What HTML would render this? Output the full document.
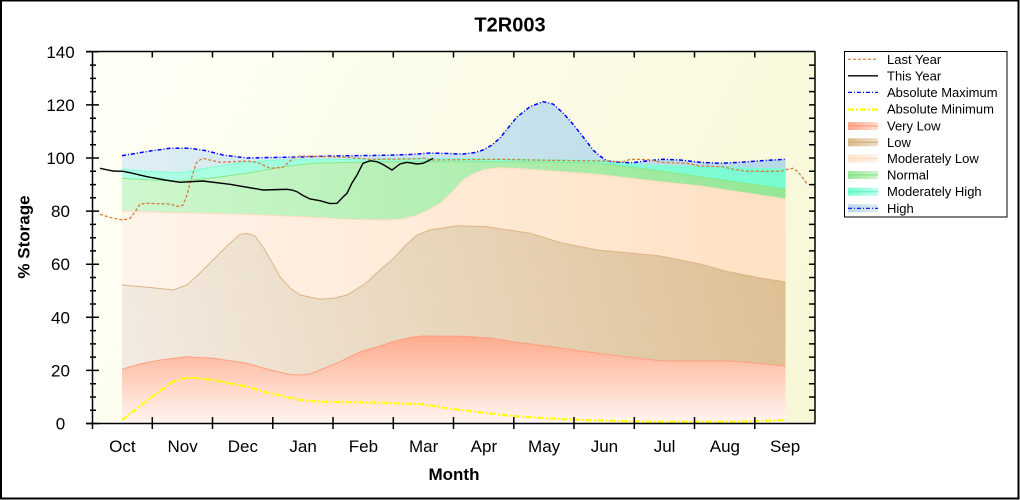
<!DOCTYPE html>
<html><head><meta charset="utf-8"><style>
html,body{margin:0;padding:0;background:#fff;}
svg{display:block;font-family:"Liberation Sans",Arial,sans-serif;}
</style></head><body>
<svg width="1020" height="500" viewBox="0 0 1020 500" xmlns="http://www.w3.org/2000/svg">
<defs>
<linearGradient id="bg" gradientUnits="userSpaceOnUse" x1="92" y1="51" x2="815" y2="423"><stop offset="0" stop-color="#fffff7"/><stop offset="1" stop-color="#f7f7d6"/></linearGradient>
<linearGradient id="gh" gradientUnits="userSpaceOnUse" x1="122" y1="0" x2="786" y2="0"><stop offset="0" stop-color="#deeef4"/><stop offset="1" stop-color="#b6d9e6"/></linearGradient>
<linearGradient id="gmh" gradientUnits="userSpaceOnUse" x1="122" y1="0" x2="786" y2="0"><stop offset="0" stop-color="#b0ffe4"/><stop offset="1" stop-color="#78fcd2"/></linearGradient>
<linearGradient id="gn" gradientUnits="userSpaceOnUse" x1="122" y1="0" x2="786" y2="0"><stop offset="0" stop-color="#cff7cf"/><stop offset="1" stop-color="#94e794"/></linearGradient>
<linearGradient id="gml" gradientUnits="userSpaceOnUse" x1="122" y1="0" x2="786" y2="0"><stop offset="0" stop-color="#fff3ea"/><stop offset="1" stop-color="#ffe1c3"/></linearGradient>
<linearGradient id="gl" gradientUnits="userSpaceOnUse" x1="122" y1="380" x2="786" y2="230"><stop offset="0" stop-color="#f3ebe2"/><stop offset="1" stop-color="#ddbf92"/></linearGradient>
<linearGradient id="gvl" gradientUnits="userSpaceOnUse" x1="0" y1="336" x2="0" y2="423"><stop offset="0" stop-color="#ffab8c"/><stop offset="1" stop-color="#fff5f1"/></linearGradient>
<linearGradient id="sw_vl"><stop offset="0" stop-color="#ffa88a"/><stop offset="1" stop-color="#ffe0d4"/></linearGradient>
<linearGradient id="sw_l"><stop offset="0" stop-color="#dcbb8c"/><stop offset="1" stop-color="#efe0cc"/></linearGradient>
<linearGradient id="sw_ml"><stop offset="0" stop-color="#ffe4cc"/><stop offset="1" stop-color="#fff3ea"/></linearGradient>
<linearGradient id="sw_n"><stop offset="0" stop-color="#98e898"/><stop offset="1" stop-color="#d0f5d0"/></linearGradient>
<linearGradient id="sw_mh"><stop offset="0" stop-color="#78ffd0"/><stop offset="1" stop-color="#c0fff0"/></linearGradient>
<linearGradient id="sw_h"><stop offset="0" stop-color="#b8d8e8"/><stop offset="1" stop-color="#e0eef4"/></linearGradient>
</defs>

<!-- outer border -->
<rect x="0" y="0" width="1020" height="500" fill="#fff"/>
<rect x="1" y="0.5" width="1017.5" height="498" fill="none" stroke="#000" stroke-width="2"/>

<!-- plot background -->
<rect x="92.5" y="51.5" width="722.5" height="372" fill="url(#bg)"/>

<!-- High band -->
<path fill="url(#gh)" d="M122,423.5 L122,155.7 L135,153.5 L150,151 L170,148.3 L190,148.3 L205,150.5 L223,155 L247,158 L270,157.5 L300,157 L330,156 L383,155.3 L410,154.5 L430,153 L463,154 L475,152.5 L483,150 L492,145 L500,138 L508,128 L517,117 L530,106.7 L543,101.7 L553,104 L563,113 L572,123 L580,133 L587,142 L593,150 L600,156 L607,161 L620,162.3 L633,162.7 L650,160.5 L663,159.3 L680,160 L700,162.3 L720,163.3 L740,162.3 L767,160.3 L785.5,159.3 L785.5,423.5 Z"/>
<!-- Moderately High -->
<path fill="url(#gmh)" d="M122,423.5 L122,169.3 L150,171.5 L180,172.7 L213,167 L247,161.7 L280,160 L330,159.5 L410,158.5 L500,159 L600,160.5 L640,164.7 L700,166.5 L785.5,169 L785.5,423.5 Z"/>
<polyline fill="none" stroke="#7fffd4" stroke-width="1" points="122,169.3 150,171.5 180,172.7 213,167 247,161.7 280,160 330,159.5 410,158.5 500,159 600,160.5 640,164.7 700,166.5 785.5,169"/>
<!-- Normal -->
<path fill="url(#gn)" d="M122,423.5 L122,178.3 L150,180 L180,181 L213,178 L247,173.3 L280,167.3 L313,163.3 L380,161.7 L450,161.7 L550,162 L597,163.3 L620,166 L650,169.5 L700,176.7 L785.5,189 L785.5,423.5 Z"/>
<polyline fill="none" stroke="#88e888" stroke-width="1" points="122,178.3 150,180 180,181 213,178 247,173.3 280,167.3 313,163.3 380,161.7 450,161.7 550,162 597,163.3 620,166 650,169.5 700,176.7 785.5,189"/>
<!-- Moderately Low -->
<path fill="url(#gml)" d="M122,423.5 L122,211 L180,212.7 L247,214.3 L313,217.3 L347,219.3 L387,220 L405,218.5 L417,215 L430,209 L440,203.3 L452,192 L463,180 L473,174 L483,170 L497,167.7 L513,168.3 L563,171.7 L597,174.3 L640,179.5 L660,181.7 L700,186 L785.5,199 L785.5,423.5 Z"/>
<polyline fill="none" stroke="#ffdcc0" stroke-width="1" points="122,211 180,212.7 247,214.3 313,217.3 347,219.3 387,220 405,218.5 417,215 430,209 440,203.3 452,192 463,180 473,174 483,170 497,167.7 513,168.3 563,171.7 597,174.3 640,179.5 660,181.7 700,186 785.5,199"/>
<!-- Low -->
<path fill="url(#gl)" d="M122,423.5 L122,285 L150,287.5 L173,290 L187,285 L200,273 L213,260 L227,246 L240,234.3 L247,233.5 L255,236 L265,250 L280,276.7 L290,288 L300,295 L320,299.3 L335,298 L347,295 L365,284 L380,270 L393,259 L405,246 L417,235 L430,230 L457,225.7 L487,226.7 L530,233.3 L563,243.3 L597,250 L630,253 L660,256 L700,264 L725,271 L760,278 L785.5,282 L785.5,423.5 Z"/>
<polyline fill="none" stroke="#ddb485" stroke-width="1" points="122,285 150,287.5 173,290 187,285 200,273 213,260 227,246 240,234.3 247,233.5 255,236 265,250 280,276.7 290,288 300,295 320,299.3 335,298 347,295 365,284 380,270 393,259 405,246 417,235 430,230 457,225.7 487,226.7 530,233.3 563,243.3 597,250 630,253 660,256 700,264 725,271 760,278 785.5,282"/>
<!-- Very Low -->
<path fill="url(#gvl)" d="M122,423.5 L122,369.3 L140,364 L160,360 L187,356.7 L213,358.3 L247,363.3 L270,370 L290,374.5 L300,375 L310,374 L320,370 L340,361.7 L360,352 L380,346 L395,341 L410,337.5 L423,336 L463,336.3 L490,338 L513,341.7 L550,346.5 L580,351 L615,355.5 L647,359.3 L663,361 L727,361 L750,362.5 L785.5,366 L785.5,423.5 Z"/>
<polyline fill="none" stroke="#ff9f80" stroke-width="1" points="122,369.3 140,364 160,360 187,356.7 213,358.3 247,363.3 270,370 290,374.5 300,375 310,374 320,370 340,361.7 360,352 380,346 395,341 410,337.5 423,336 463,336.3 490,338 513,341.7 550,346.5 580,351 615,355.5 647,359.3 663,361 727,361 750,362.5 785.5,366"/>

<!-- Absolute Minimum -->
<polyline fill="none" stroke="#ffff00" stroke-width="2.2" stroke-dasharray="6,2,2,2" points="122,420 135,410 150,398.3 163,389 173,381.7 183,378.5 193,377.7 213,380 247,386.7 270,393.3 300,400 320,401.7 340,402 380,402.7 423,404.3 447,408.3 480,412.3 513,416 547,418.3 580,420 647,421.7 740,421.7 760,421 786,420"/>
<!-- Absolute Maximum -->
<polyline fill="none" stroke="#0000ff" stroke-width="1.5" stroke-dasharray="4,2,1,2" points="122,155.7 135,153.5 150,151 170,148.3 190,148.3 205,150.5 223,155 247,158 270,157.5 300,157 330,156 383,155.3 410,154.5 430,153 463,154 475,152.5 483,150 492,145 500,138 508,128 517,117 530,106.7 543,101.7 553,104 563,113 572,123 580,133 587,142 593,150 600,156 607,161 620,162.3 633,162.7 650,160.5 663,159.3 680,160 700,162.3 720,163.3 740,162.3 767,160.3 786,159.3"/>
<!-- Last Year -->
<polyline fill="none" stroke="#d87c3c" stroke-width="1.3" stroke-dasharray="3,2" points="100,214.3 113,218.3 123,220 130,218.3 135,212 140,204 147,203.3 170,204 178,206.5 183,205 187,195 190,183.3 194,170 197,161.7 203,158.3 212,160.5 220,162.3 247,161 257,162.3 263,165 270,168.3 283,167.3 288,163 293,158.3 300,156 347,157.3 370,159.3 410,159 425,158.3 430,160 500,159.3 530,160 600,161 623,161.7 630,159.5 637,159.3 650,159.8 660,162.3 687,163.3 700,166 723,166.7 733,169.3 747,171.3 780,171.3 787,169.3 793,168.3 798,171.7 803,178.3 808,185"/>
<!-- This Year -->
<polyline fill="none" stroke="#000" stroke-width="1.4" points="100,168.3 113,171 123,171.3 130,172.7 147,176.7 165,180 180,182.3 203,181 230,184.3 263,190 280,189.5 287,189.3 292,190 297,191.7 303,195.5 310,199 320,200.7 330,203.5 337,203.3 343,197 347,193.3 352,183 357,175 363,163.3 370,160.7 377,161.7 383,164.5 392,170 400,164 407,162.3 417,164 423,163.3 430,160 433,158.3"/>

<!-- axes -->
<g stroke="#000" stroke-width="1.5" fill="none">
<line x1="86" y1="51.5" x2="815.5" y2="51.5"/>
<line x1="86" y1="423.5" x2="815.5" y2="423.5"/>
<line x1="92.5" y1="51.5" x2="92.5" y2="429"/>
<line x1="815" y1="51.5" x2="815" y2="423.5"/>
<!-- major y ticks -->
<path d="M86,423.5H99 M86,370.4H99 M86,317.3H99 M86,264.2H99 M86,211.1H99 M86,158H99 M86,104.9H99 M86,51.8H99"/>
<!-- minor y ticks -->
<path d="M90,410.2H96 M90,397H96 M90,383.7H96 M90,357.1H96 M90,343.9H96 M90,330.6H96 M90,304H96 M90,290.8H96 M90,277.5H96 M90,250.9H96 M90,237.7H96 M90,224.4H96 M90,197.8H96 M90,184.6H96 M90,171.3H96 M90,144.7H96 M90,131.5H96 M90,118.2H96 M90,91.6H96 M90,78.4H96 M90,65.1H96"/>
<!-- right ticks -->
<path d="M809,410.2H815 M809,397H815 M809,383.7H815 M809,370.4H815 M809,357.1H815 M809,343.9H815 M809,330.6H815 M809,317.3H815 M809,304H815 M809,290.8H815 M809,277.5H815 M809,264.2H815 M809,250.9H815 M809,237.7H815 M809,224.4H815 M809,211.1H815 M809,197.8H815 M809,184.6H815 M809,171.3H815 M809,158H815 M809,144.7H815 M809,131.5H815 M809,118.2H815 M809,104.9H815 M809,91.6H815 M809,78.4H815 M809,65.1H815"/>
<!-- bottom ticks -->
<path d="M152.3,417V429 M212.5,417V429 M272.8,417V429 M333,417V429 M393.3,417V429 M453.5,417V429 M513.8,417V429 M574,417V429 M634.3,417V429 M694.5,417V429 M754.8,417V429"/>
<!-- top ticks -->
<path d="M152.3,51.5V57.5 M212.5,51.5V57.5 M272.8,51.5V57.5 M333,51.5V57.5 M393.3,51.5V57.5 M453.5,51.5V57.5 M513.8,51.5V57.5 M574,51.5V57.5 M634.3,51.5V57.5 M694.5,51.5V57.5 M754.8,51.5V57.5"/>
</g>

<!-- y labels -->
<g font-size="17" text-anchor="middle" fill="#000">
<text x="60.5" y="429.5">0</text>
<text x="60.5" y="376.4">20</text>
<text x="60.5" y="323.3">40</text>
<text x="60.5" y="270.2">60</text>
<text x="60.5" y="217.1">80</text>
<text x="60.5" y="164">100</text>
<text x="60.5" y="110.9">120</text>
<text x="60.5" y="57.8">140</text>
</g>
<!-- month labels -->
<g font-size="17" text-anchor="middle" fill="#000">
<text x="122.4" y="452">Oct</text>
<text x="182.6" y="452">Nov</text>
<text x="242.9" y="452">Dec</text>
<text x="303.1" y="452">Jan</text>
<text x="363.4" y="452">Feb</text>
<text x="423.6" y="452">Mar</text>
<text x="483.9" y="452">Apr</text>
<text x="544.1" y="452">May</text>
<text x="604.4" y="452">Jun</text>
<text x="664.6" y="452">Jul</text>
<text x="724.9" y="452">Aug</text>
<text x="785.1" y="452">Sep</text>
</g>

<text x="510" y="31.5" font-size="20" font-weight="bold" text-anchor="middle">T2R003</text>
<text x="454" y="480" font-size="17" font-weight="bold" text-anchor="middle">Month</text>
<text transform="translate(29.5,237) rotate(-90)" font-size="17" font-weight="bold" text-anchor="middle">% Storage</text>

<!-- legend -->
<rect x="844.5" y="51.5" width="162.5" height="165.5" fill="#fff" stroke="#000" stroke-width="1"/>
<line x1="848" y1="59.3" x2="878" y2="59.3" stroke="#d87c3c" stroke-width="1.2" stroke-dasharray="3,2"/>
<line x1="848" y1="75.8" x2="878" y2="75.8" stroke="#000" stroke-width="1.3"/>
<line x1="848" y1="92.4" x2="878" y2="92.4" stroke="#0000ff" stroke-width="1.3" stroke-dasharray="4,2,1,2"/>
<line x1="848" y1="109.5" x2="878" y2="109.5" stroke="#ffff00" stroke-width="2.2" stroke-dasharray="6,2,2,2"/>
<rect x="848" y="122" width="30" height="8" fill="url(#sw_vl)"/><line x1="848" y1="126" x2="878" y2="126" stroke="#ff9070" stroke-width="1"/>
<rect x="848" y="138.3" width="30" height="8" fill="url(#sw_l)"/><line x1="848" y1="142.3" x2="878" y2="142.3" stroke="#d0a878" stroke-width="1"/>
<rect x="848" y="154.5" width="30" height="8" fill="url(#sw_ml)"/><line x1="848" y1="158.5" x2="878" y2="158.5" stroke="#ffd8b8" stroke-width="1"/>
<rect x="848" y="171" width="30" height="8" fill="url(#sw_n)"/><line x1="848" y1="175" x2="878" y2="175" stroke="#80e080" stroke-width="1"/>
<rect x="848" y="187.7" width="30" height="8" fill="url(#sw_mh)"/><line x1="848" y1="191.7" x2="878" y2="191.7" stroke="#60f0c0" stroke-width="1"/>
<rect x="848" y="204.3" width="30" height="8" fill="url(#sw_h)"/><line x1="848" y1="208.3" x2="878" y2="208.3" stroke="#0000ff" stroke-width="1.2" stroke-dasharray="4,2,1,2"/>
<g font-size="13" fill="#000">
<text x="887" y="63.8">Last Year</text>
<text x="887" y="80.3">This Year</text>
<text x="887" y="96.9">Absolute Maximum</text>
<text x="887" y="113.6">Absolute Minimum</text>
<text x="887" y="130.3">Very Low</text>
<text x="887" y="146.8">Low</text>
<text x="887" y="163.1">Moderately Low</text>
<text x="887" y="179.6">Normal</text>
<text x="887" y="196.2">Moderately High</text>
<text x="887" y="212.8">High</text>
</g>
</svg>
</body></html>
